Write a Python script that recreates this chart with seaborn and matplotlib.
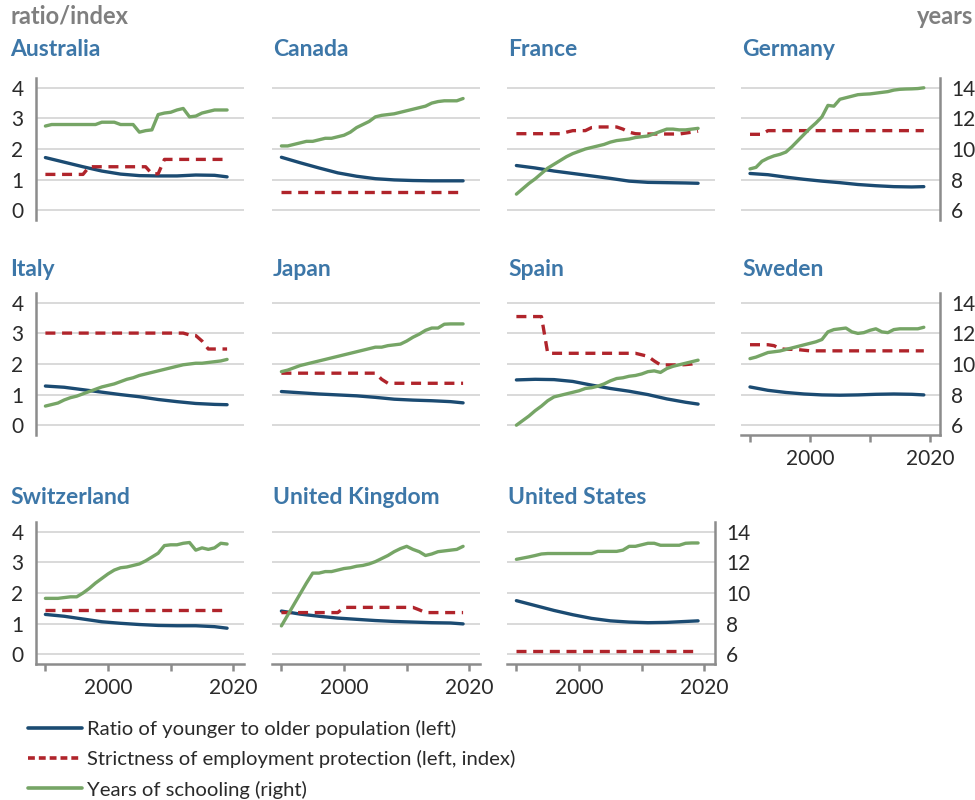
import matplotlib
matplotlib.use("Agg")
import matplotlib.pyplot as plt
from matplotlib.lines import Line2D
import seaborn as sns

# --- data ---
years = list(range(1990, 2020))
ratio_years = [1990, 1993, 1996, 1999, 2002, 2005, 2008, 2011, 2014, 2017, 2019]

# Australia
aus_ratio = [1.72, 1.57, 1.42, 1.28, 1.18, 1.13, 1.12, 1.12, 1.15, 1.14, 1.09]
aus_epl = [1.17, 1.17, 1.17, 1.17, 1.17, 1.17, 1.17, 1.42, 1.42, 1.42,
           1.42, 1.42, 1.42, 1.42, 1.42, 1.42, 1.42, 1.19, 1.19, 1.66,
           1.66, 1.66, 1.66, 1.66, 1.66, 1.66, 1.66, 1.66, 1.66, 1.66]
aus_school = [11.5, 11.6, 11.6, 11.6, 11.6, 11.6, 11.6, 11.6, 11.6, 11.75,
              11.75, 11.75, 11.6, 11.6, 11.6, 11.1, 11.2, 11.25, 12.25, 12.35,
              12.4, 12.55, 12.65, 12.1, 12.15, 12.35, 12.45, 12.55, 12.55, 12.55]

# Canada
can_ratio = [1.73, 1.55, 1.38, 1.22, 1.11, 1.03, 0.99, 0.97, 0.96, 0.96, 0.96]
can_epl = [0.58, 0.58, 0.58, 0.58, 0.58, 0.58, 0.58, 0.58, 0.58, 0.58,
           0.58, 0.58, 0.58, 0.58, 0.58, 0.58, 0.58, 0.58, 0.58, 0.58,
           0.58, 0.58, 0.58, 0.58, 0.58, 0.58, 0.58, 0.58, 0.58, 0.58]
can_school = [10.2, 10.2, 10.3, 10.4, 10.5, 10.5, 10.6, 10.7, 10.7, 10.8,
              10.9, 11.1, 11.4, 11.6, 11.8, 12.1, 12.2, 12.25, 12.3, 12.4,
              12.5, 12.6, 12.7, 12.8, 13.0, 13.1, 13.15, 13.15, 13.15, 13.3]

# France
fra_ratio = [1.46, 1.38, 1.28, 1.20, 1.12, 1.04, 0.95, 0.91, 0.90, 0.89, 0.88]
fra_epl = [2.50, 2.50, 2.50, 2.50, 2.50, 2.50, 2.50, 2.50, 2.55, 2.60,
           2.60, 2.60, 2.70, 2.72, 2.72, 2.72, 2.72, 2.65, 2.55, 2.50,
           2.49, 2.49, 2.49, 2.49, 2.49, 2.49, 2.49, 2.52, 2.55, 2.58]
fra_school = [7.05, 7.4, 7.75, 8.05, 8.4, 8.75, 9.0, 9.25, 9.5, 9.7,
              9.85, 10.0, 10.1, 10.2, 10.3, 10.45, 10.55, 10.6, 10.65, 10.75,
              10.8, 10.85, 11.0, 11.15, 11.3, 11.3, 11.25, 11.25, 11.3, 11.35]

# Germany
deu_ratio = [1.20, 1.16, 1.08, 1.01, 0.95, 0.90, 0.84, 0.80, 0.77, 0.76, 0.77]
deu_epl = [2.48, 2.48, 2.48, 2.60, 2.60, 2.60, 2.60, 2.60, 2.60, 2.60,
           2.60, 2.60, 2.60, 2.60, 2.60, 2.60, 2.60, 2.60, 2.60, 2.60,
           2.60, 2.60, 2.60, 2.60, 2.60, 2.60, 2.60, 2.60, 2.60, 2.60]
deu_school = [8.7, 8.8, 9.2, 9.4, 9.55, 9.65, 9.8, 10.15, 10.55, 10.95,
              11.35, 11.7, 12.1, 12.85, 12.8, 13.25, 13.35, 13.45, 13.55, 13.58,
              13.6, 13.65, 13.7, 13.75, 13.85, 13.9, 13.92, 13.93, 13.95, 14.0]

# Italy
ita_ratio = [1.28, 1.24, 1.16, 1.08, 1.00, 0.93, 0.84, 0.77, 0.71, 0.68, 0.67]
ita_epl = [3.01, 3.01, 3.01, 3.01, 3.01, 3.01, 3.01, 3.01, 3.01, 3.01,
           3.01, 3.01, 3.01, 3.01, 3.01, 3.01, 3.01, 3.01, 3.01, 3.01,
           3.01, 3.01, 3.01, 2.95, 2.93, 2.75, 2.49, 2.49, 2.49, 2.49]
ita_school = [7.25, 7.35, 7.45, 7.65, 7.8, 7.9, 8.05, 8.2, 8.35, 8.5,
              8.6, 8.7, 8.85, 9.0, 9.1, 9.25, 9.35, 9.45, 9.55, 9.65,
              9.75, 9.85, 9.95, 10.0, 10.05, 10.05, 10.1, 10.15, 10.2, 10.3]

# Japan
jpn_ratio = [1.10, 1.06, 1.02, 0.99, 0.96, 0.91, 0.85, 0.82, 0.80, 0.77, 0.73]
jpn_epl = [1.70, 1.70, 1.70, 1.70, 1.70, 1.70, 1.70, 1.70, 1.70, 1.70,
           1.70, 1.70, 1.70, 1.70, 1.70, 1.70, 1.50, 1.37, 1.37, 1.37,
           1.37, 1.37, 1.37, 1.37, 1.37, 1.37, 1.37, 1.37, 1.37, 1.37]
jpn_school = [9.5, 9.6, 9.75, 9.9, 10.0, 10.1, 10.2, 10.3, 10.4, 10.5,
              10.6, 10.7, 10.8, 10.9, 11.0, 11.1, 11.1, 11.2, 11.25, 11.3,
              11.5, 11.75, 11.95, 12.2, 12.35, 12.35, 12.6, 12.62, 12.62, 12.62]

# Spain
esp_ratio = [1.48, 1.50, 1.49, 1.43, 1.31, 1.20, 1.11, 1.00, 0.86, 0.75, 0.69]
esp_epl = [3.55, 3.55, 3.55, 3.55, 3.55, 2.35, 2.35, 2.35, 2.35, 2.35,
           2.35, 2.35, 2.35, 2.35, 2.35, 2.35, 2.35, 2.35, 2.35, 2.35,
           2.30, 2.25, 2.10, 1.97, 1.97, 1.97, 1.97, 1.98, 2.00, 2.07]
esp_school = [6.0, 6.3, 6.6, 6.95, 7.25, 7.6, 7.85, 7.95, 8.05, 8.15,
              8.25, 8.4, 8.45, 8.55, 8.7, 8.9, 9.05, 9.1, 9.2, 9.25,
              9.35, 9.5, 9.55, 9.45, 9.7, 9.85, 9.95, 10.05, 10.15, 10.25]

# Sweden
swe_ratio = [1.25, 1.14, 1.07, 1.02, 0.99, 0.98, 0.99, 1.01, 1.02, 1.01, 0.99]
swe_epl = [2.63, 2.63, 2.63, 2.63, 2.60, 2.50, 2.48, 2.48, 2.47, 2.45,
           2.43, 2.43, 2.43, 2.43, 2.43, 2.43, 2.43, 2.43, 2.43, 2.43,
           2.43, 2.43, 2.43, 2.43, 2.43, 2.43, 2.43, 2.43, 2.43, 2.43]
swe_school = [10.35, 10.45, 10.6, 10.75, 10.8, 10.85, 10.95, 11.05, 11.15, 11.25,
              11.35, 11.45, 11.6, 12.1, 12.25, 12.3, 12.35, 12.1, 12.0, 12.05,
              12.2, 12.3, 12.1, 12.05, 12.25, 12.3, 12.3, 12.3, 12.3, 12.4]

# Switzerland
che_ratio = [1.30, 1.24, 1.15, 1.06, 1.01, 0.97, 0.94, 0.93, 0.93, 0.90, 0.85]
che_epl = [1.45, 1.45, 1.45, 1.45, 1.45, 1.45, 1.45, 1.45, 1.45, 1.45,
           1.45, 1.45, 1.45, 1.45, 1.45, 1.45, 1.45, 1.45, 1.45, 1.45,
           1.45, 1.45, 1.45, 1.45, 1.45, 1.45, 1.45, 1.45, 1.45, 1.45]
che_school = [9.65, 9.65, 9.65, 9.7, 9.75, 9.75, 10.0, 10.3, 10.65, 10.95,
              11.25, 11.5, 11.65, 11.7, 11.8, 11.9, 12.1, 12.35, 12.6, 13.1,
              13.15, 13.15, 13.25, 13.3, 12.8, 12.95, 12.85, 12.95, 13.25, 13.2]

# United Kingdom
gbr_ratio = [1.41, 1.31, 1.24, 1.18, 1.14, 1.10, 1.07, 1.05, 1.03, 1.02, 0.99]
gbr_epl = [1.36, 1.36, 1.36, 1.36, 1.36, 1.36, 1.36, 1.36, 1.36, 1.36,
           1.53, 1.53, 1.53, 1.53, 1.53, 1.53, 1.53, 1.53, 1.53, 1.53,
           1.53, 1.53, 1.45, 1.36, 1.36, 1.36, 1.36, 1.36, 1.36, 1.36]
gbr_school = [7.85, 8.55, 9.25, 9.95, 10.65, 11.3, 11.3, 11.4, 11.4, 11.5,
              11.6, 11.65, 11.75, 11.8, 11.9, 12.05, 12.25, 12.45, 12.7, 12.9,
              13.05, 12.85, 12.7, 12.45, 12.55, 12.7, 12.75, 12.8, 12.85, 13.05]

# United States
usa_ratio = [1.75, 1.59, 1.43, 1.29, 1.17, 1.09, 1.05, 1.03, 1.04, 1.07, 1.09]
usa_epl = [0.10, 0.10, 0.10, 0.10, 0.10, 0.10, 0.10, 0.10, 0.10, 0.10,
           0.10, 0.10, 0.10, 0.10, 0.10, 0.10, 0.10, 0.10, 0.10, 0.10,
           0.10, 0.10, 0.10, 0.10, 0.10, 0.10, 0.10, 0.10, 0.10, 0.10]
usa_school = [12.2, 12.28, 12.36, 12.45, 12.55, 12.58, 12.58, 12.58, 12.58, 12.58,
              12.58, 12.58, 12.58, 12.72, 12.72, 12.72, 12.72, 12.8, 13.05, 13.05,
              13.15, 13.25, 13.25, 13.12, 13.12, 13.12, 13.12, 13.25, 13.27, 13.27]

panels = [
    ("Australia", aus_ratio, aus_epl, aus_school),
    ("Canada", can_ratio, can_epl, can_school),
    ("France", fra_ratio, fra_epl, fra_school),
    ("Germany", deu_ratio, deu_epl, deu_school),
    ("Italy", ita_ratio, ita_epl, ita_school),
    ("Japan", jpn_ratio, jpn_epl, jpn_school),
    ("Spain", esp_ratio, esp_epl, esp_school),
    ("Sweden", swe_ratio, swe_epl, swe_school),
    ("Switzerland", che_ratio, che_epl, che_school),
    ("United Kingdom", gbr_ratio, gbr_epl, gbr_school),
    ("United States", usa_ratio, usa_epl, usa_school),
]

legend_labels = ["Ratio of younger to older population (left)",
                 "Strictness of employment protection (left, index)",
                 "Years of schooling (right)"]

# --- style ---
sns.set_theme(style="white")
plt.rcParams["font.family"] = ["Lato", "DejaVu Sans"]

BLUE = "#1b4b72"
RED = "#b0242b"
GREEN = "#76a566"
TITLE = "#3d77a8"
GREY_TXT = "#7f7f7f"
SPINE = "#8c8c8c"
GRID = "#d3d3d3"
TXT = "#2a2a2a"

W, H = 975, 800
fig = plt.figure(figsize=(W / 100, H / 100), dpi=100)

col_left = [36, 272, 507, 741]
col_width = [208, 208, 208, 199]
row_top = [78, 293, 522]
row_height = 142
title_base = [56, 276, 504]


def px_rect(left, top, width, height):
    return [left / W, 1 - (top + height) / H, width / W, height / H]


for i, (name, ratio, epl, school) in enumerate(panels):
    row, col = divmod(i, 4)
    is_left = col == 0
    is_right = col == 3 or i == len(panels) - 1
    is_bottom = row == 2 or (row == 1 and col == 3)

    ax = fig.add_axes(px_rect(col_left[col], row_top[row], col_width[col], row_height))
    ax2 = ax.twinx()

    sns.lineplot(x=ratio_years, y=ratio, ax=ax, color=BLUE, lw=2.4)
    sns.lineplot(x=years, y=epl, ax=ax, color=RED, lw=2.4, linestyle=(0, (3, 2)))
    sns.lineplot(x=years, y=school, ax=ax2, color=GREEN, lw=2.4)

    ax.set_xlim(1988.5, 2021.7)
    ax.set_ylim(-0.32, 4.32)
    ax2.set_ylim(5.36, 14.64)
    ax.set_yticks([0, 1, 2, 3, 4])
    ax2.set_yticks([6, 8, 10, 12, 14])
    ax.set_xticks([1990, 2000, 2010, 2020])
    ax.set_xticklabels(["", "2000", "", "2020"])
    ax.set_xlabel("")
    ax.set_ylabel("")
    ax2.set_ylabel("")

    ax.grid(axis="y", color=GRID, lw=1.2)
    ax.grid(axis="x", visible=False)
    ax2.grid(False)

    for sp in list(ax.spines.values()) + list(ax2.spines.values()):
        sp.set_visible(False)
        sp.set_color(SPINE)
        sp.set_linewidth(1.8)
    ax.spines["left"].set_visible(is_left)
    ax.spines["bottom"].set_visible(is_bottom)
    ax2.spines["right"].set_visible(is_right)

    ax.tick_params(axis="y", length=0, pad=9, labelsize=15, labelcolor=TXT,
                   labelleft=is_left)
    ax2.tick_params(axis="y", length=0, pad=8, labelsize=15, labelcolor=TXT,
                    labelright=is_right)
    ax.tick_params(axis="x", bottom=is_bottom, length=5, width=1.8, color=SPINE,
                   pad=5, labelsize=15, labelcolor=TXT, labelbottom=is_bottom)

    tx = 10 if is_left else col_left[col] + 1
    fig.text(tx / W, 1 - title_base[row] / H, name, color=TITLE, fontsize=16.5,
             fontweight="bold", va="baseline", ha="left")

fig.text(10 / W, 1 - 24 / H, "ratio/index", color=GREY_TXT, fontsize=17,
         fontweight="bold", va="baseline", ha="left")
fig.text(973 / W, 1 - 24 / H, "years", color=GREY_TXT, fontsize=17,
         fontweight="bold", va="baseline", ha="right")

handles = [Line2D([], [], color=BLUE, lw=2.6),
           Line2D([], [], color=RED, lw=2.6, linestyle=(0, (1.9, 1.1))),
           Line2D([], [], color=GREEN, lw=2.6)]
fig.legend(handles, legend_labels, loc="upper left",
           bbox_to_anchor=(28 / W, 1 - 720 / H), frameon=False,
           borderpad=0, borderaxespad=0, handlelength=2.65,
           handletextpad=0.25, labelspacing=0.6, labelcolor=TXT,
           prop={"size": 14.6})

fig.savefig("out.png", dpi=100)
